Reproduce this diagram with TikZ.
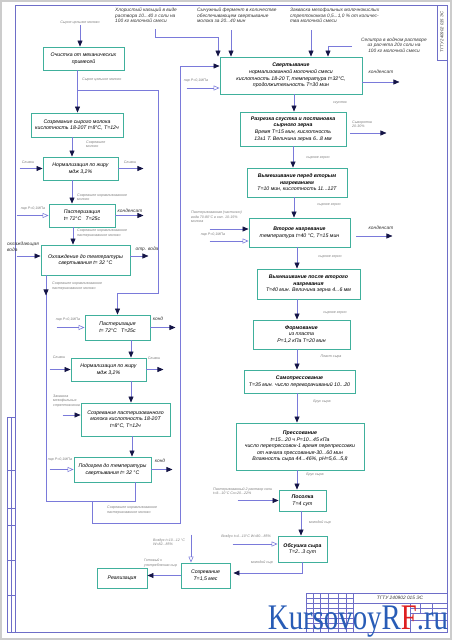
\documentclass[tikz,border=0pt]{standalone}
\usepackage{fontspec}
\setmainfont{Liberation Sans}
\newfontfamily\wmfont{Liberation Serif}
\usetikzlibrary{arrows.meta}

\definecolor{boxc}{RGB}{64,176,156}
\definecolor{linec}{RGB}{122,122,218}
\definecolor{tipc}{RGB}{20,20,70}
\definecolor{labc}{RGB}{125,125,125}
\definecolor{framec}{RGB}{110,110,200}
\definecolor{wmblue}{RGB}{40,92,182}
\definecolor{wmred}{RGB}{222,32,32}

\tikzset{
  proc/.style={draw=boxc, line width=0.9pt, fill=white, align=center, inner sep=1pt,
    font=\fontsize{5.2}{6.6}\selectfont\itshape},
  lab/.style={text=labc, font=\fontsize{3.6}{4.3}\selectfont\itshape, align=left, inner sep=0pt},
  note/.style={text=black!80, font=\fontsize{4.8}{5.6}\selectfont\itshape, align=left, inner sep=0pt},
  flow/.style={draw=linec, line width=0.6pt, -{Triangle[length=6pt,width=5pt,color=tipc]}},
  steam/.style={draw=linec, line width=0.6pt, -{Triangle[open,length=6pt,width=5pt]}},
  link/.style={draw=linec, line width=0.6pt},
  sheet/.style={draw=framec, line width=0.5pt}
}

\begin{document}
\begin{tikzpicture}[x=1pt,y=-1pt]
\useasboundingbox (0,0) rectangle (452,640);
% sheet
\draw[gray!40, line width=1.5pt] (1,1) rectangle (451,639);
\draw[sheet, line width=0.7pt] (15,5) rectangle (447,632);
\draw[sheet] (437,5) rectangle (447,60);
\node[note, rotate=90, font=\fontsize{4.2}{5}\selectfont\itshape] (st1) at (442,32) {ТГТУ 240902 015 ЭС};
\draw[sheet] (7,417) rectangle (15,632);
\draw[sheet] (11,417) -- (11,632);
\foreach \y in {470,508,525,560,595} \draw[sheet] (7,\y) -- (15,\y);
\draw[sheet] (306,593) rectangle (447,632);
\foreach \x in {313,320,328,338,346,353} \draw[sheet] (\x,593) -- (\x,632);
\foreach \y in {598,603,608,613,618,623,628} \draw[sheet] (306,\y) -- (353,\y);
\draw[sheet] (353,603) -- (447,603);
\draw[sheet] (410,603) -- (410,632);
\draw[sheet] (410,608) -- (447,608);
\draw[sheet] (410,613) -- (447,613);
\draw[sheet] (420,603) -- (420,613);
\draw[sheet] (432,603) -- (432,613);
\draw[sheet] (410,620) -- (447,620);
\node[note] (tb1) at (400,597.5) {ТГТУ 240902 015 ЭС};

% left column
\node[proc, minimum width=81pt, minimum height=23pt] (n1) at (83.5,58.5) {Очистка от механических\\примесей};
\node[proc, minimum width=92pt, minimum height=24pt] (n2) at (77,125) {Созревание сырого молока\\кислотность 18-20Т t=8°С, Т=12ч};
\node[proc, minimum width=75pt, minimum height=23pt] (n3) at (80.5,168.5) {Нормализация по жиру\\мдж 3,2\%};
\node[proc, minimum width=66pt, minimum height=23pt] (n4) at (82,215.5) {Пастеризация\\t= 72°С \ \ Т=25с};
\node[proc, minimum width=89pt, minimum height=30pt] (n5) at (85.5,260) {Охлаждение до температуры\\свертывания t= 32 °С};
\node[proc, minimum width=65pt, minimum height=25pt] (n6) at (117.5,327.5) {Пастеризация\\t= 72°С \ \ Т=25с};
\node[proc, minimum width=75pt, minimum height=23pt] (n7) at (108.5,369.5) {Нормализация по жиру\\мдж 3,2\%};
\node[proc, minimum width=89pt, minimum height=33pt] (n8) at (125.5,419.5) {Созревание пастеризованного\\молока кислотность 18-20Т\\t=8°С, Т=12ч};
\node[proc, minimum width=77pt, minimum height=25pt] (n9) at (112.5,469.5) {Подогрев до температуры\\свертывания t= 32 °С};

% right column
\node[proc, minimum width=142pt, minimum height=37pt] (n10) at (291,75.5) {\textbf{Свертывание}\\нормализованной молочной смеси\\кислотность 18-20 Т, температура t=32°С,\\продолжительность Т=30 мин};
\node[proc, minimum width=106pt, minimum height=34pt] (n11) at (293,129) {\textbf{Разрезка сгустка и постановка}\\\textbf{сырного зерна}\\Время Т=15 мин, кислотность\\13±1 Т. Величина зерна 6...8 мм};
\node[proc, minimum width=100pt, minimum height=29pt] (n12) at (297,182.5) {\textbf{Вымешивание перед вторым}\\\textbf{нагреванием}\\Т=10 мин, кислотность 11...12Т};
\node[proc, minimum width=101pt, minimum height=29pt] (n13) at (299.5,232.5) {\textbf{Второе нагревание}\\температура t=40 °С, Т=15 мин};
\node[proc, minimum width=103pt, minimum height=30pt] (n14) at (308.5,284) {\textbf{Вымешивание после второго}\\\textbf{нагревания}\\Т=40 мин. Величина зерна 4...6 мм};
\node[proc, minimum width=97pt, minimum height=29pt] (n15) at (301.5,334.5) {\textbf{Формование}\\из пласта\\Р=1,2 кПа Т=20 мин};
\node[proc, minimum width=111pt, minimum height=23pt] (n16) at (299.5,381.5) {\textbf{Самопрессование}\\Т=35 мин. число переворачиваний 10...20};
\node[proc, minimum width=128pt, minimum height=47pt] (n17) at (300,446.5) {\textbf{Прессование}\\t=15...20 ч Р=10...45 кПа\\число перепрессовок-1 время перепрессовки\\от начала прессования-30...60 мин\\Влажность сыра 44...46\%, рН=5,6...5,8};
\node[proc, minimum width=47pt, minimum height=21pt] (n18) at (302.5,500.5) {\textbf{Посолка}\\Т=4 сут};
\node[proc, minimum width=49pt, minimum height=26pt] (n19) at (302.5,549) {\textbf{Обсушка сыра}\\Т=2...3 сут};
\node[proc, minimum width=49pt, minimum height=25pt] (n20) at (205.5,575.5) {Созревание\\Т=1,5 мес};
\node[proc, minimum width=50pt, minimum height=20pt] (n21) at (122,578) {Реализация};

% labels, left part
\node[lab] (l1) at (80,23) {Сырое цельное молоко};
\node[lab, anchor=west] (l2) at (82,80) {Сырое цельное молоко};
\node[lab, anchor=west] (l3) at (86,144) {Созревшее\\молоко};
\node[lab] (l4) at (28,162) {Сливки};
\node[lab] (l5) at (130,162) {Сливки};
\node[lab, anchor=west] (l6) at (77,197) {Созревшее нормализованное\\молоко};
\node[lab] (l7) at (33,209) {пар Р=0,1МПа};
\node[note] (l8) at (130,211) {конденсат};
\node[lab, anchor=west] (l9) at (77,233) {Созревшее нормализованное\\пастеризованное молоко};
\node[note] (l10) at (23,247) {охлаждающая\\вода};
\node[note] (l11) at (147,249) {отр. вода};
\node[lab, anchor=west] (l12) at (52,286) {Созревшее нормализованное\\пастеризованное молоко};
\node[lab] (l13) at (68,320) {пар Р=0,1МПа};
\node[note] (l14) at (158,319) {конд};
\node[lab] (l15) at (59,357) {Сливки};
\node[lab] (l16) at (154,358) {Сливки};
\node[lab, anchor=west] (l17) at (53,401) {Закваска\\мезофильных\\стрептококков};
\node[lab] (l18) at (60,460) {пар Р=0,1МПа};
\node[note] (l19) at (160,461) {конд};
\node[lab, anchor=west] (l20) at (107,510) {Созревшее нормализованное\\пастеризованное молоко};

% labels, right part
\node[note, anchor=north west] (l21) at (115,8) {Хлористый кальций в виде\\раствора 10...40 г соли на\\100 кг молочной смеси};
\node[note, anchor=north west] (l22) at (197,8) {Сычужный фермент в количестве\\обеспечивающем свертывание\\молока за 20...40 мин};
\node[note, anchor=north west] (l23) at (290,8) {Закваска мезофильных молочнокислых\\стрептококков 0,5...1,0 \% от количес-\\тва молочной смеси};
\node[note, align=center] (l24) at (394,45) {Селитра в водном растворе\\из расчета 20г соли на\\100 кг молочной смеси};
\node[lab] (l25) at (196,81) {пар Р=0,1МПа};
\node[note] (l26) at (381,72) {конденсат};
\node[lab] (l27) at (340,103) {сгусток};
\node[lab, anchor=west] (l28) at (352,124) {Сыворотка\\20-30\%};
\node[lab] (l29) at (318,158) {сырное зерно};
\node[lab] (l30) at (329,205) {сырное зерно};
\node[lab, anchor=west] (l31) at (191,217) {Пастеризованная (частично)\\вода 70-80°С в кол. 10-15\%\\молока};
\node[lab] (l32) at (213,235) {пар Р=0,1МПа};
\node[note] (l33) at (381,228) {конденсат};
\node[lab] (l34) at (330,257) {сырное зерно};
\node[lab] (l35) at (335,313) {сырное зерно};
\node[lab] (l36) at (331,357) {Пласт сыра};
\node[lab] (l37) at (322,402) {Брус сыра};
\node[lab] (l38) at (315,475) {Брус сыра};
\node[lab, anchor=west] (l39) at (213,491) {Пастеризованный 2 раствор соли\\t=8...10°С Сн=20...22\%};
\node[lab] (l40) at (320,523) {молодой сыр};
\node[lab] (l41) at (246,537) {Воздух t=4...10°С W=80...85\%};
\node[lab] (l42) at (262,563) {молодой сыр};
\node[lab, anchor=west] (l43) at (153,542) {Воздух t=10...12 °С\\W=82...85\%};
\node[lab, anchor=west] (l44) at (144,563) {Готовый к\\употреблению сыр};

% flows, left part
\coordinate (br1) at (77.5,90);
\coordinate (br2) at (158,293);
\coordinate (j1) at (92,501);
\coordinate (j2) at (180,523);
\coordinate (t10) at ([yshift=9.5pt]n10.west);
\draw[flow] (l1.south) -- (l1.south |- n1.north);
\draw[flow] ([xshift=-6pt]n1.south) -- ([xshift=-6pt]n1.south |- n2.north);
\draw[flow] (br1) -| (br2) -| (n6.north);
\draw[flow] ([xshift=-5pt]n2.south) -- ([xshift=-5pt]n2.south |- n3.north);
\draw[flow] ([xshift=-23pt]n3.west) -- (n3.west);
\draw[flow] (n3.east) -- ++(25,0);
\draw[flow] ([xshift=-8.5pt]n3.south) -- ([xshift=-8.5pt]n3.south |- n4.north);
\draw[steam] ([xshift=-32pt]n4.west) -- (n4.west);
\draw[flow] (n4.east) -- ++(28,0);
\draw[flow] ([xshift=-9pt]n4.south) -- ([xshift=-9pt]n4.south |- n5.north);
\draw[flow] ([xshift=-24pt,yshift=4pt]n5.west) -- ([yshift=4pt]n5.west);
\draw[flow] ([yshift=4pt]n5.east) -- ++(18,0);
\draw[link] ([xshift=-39.5pt]n5.south) |- (j1);
\draw[flow] ([xshift=-39.5pt]n5.south) -- ++(0,20);
\draw[steam] ([xshift=-28pt]n6.west) -- (n6.west);
\draw[flow] (n6.east) -- ++(25,0);
\draw[flow] ([xshift=13.5pt]n6.south) -- ([xshift=13.5pt]n6.south |- n7.north);
\draw[flow] ([xshift=-21pt]n7.west) -- (n7.west);
\draw[flow] (n7.east) -- ++(17,0);
\draw[flow] ([xshift=22.5pt]n7.south) -- ([xshift=22.5pt]n7.south |- n8.north);
\draw[flow] ([xshift=-18pt,yshift=4.5pt]n8.west) -- ([yshift=4.5pt]n8.west);
\draw[flow] ([xshift=6.5pt]n8.south) -- ([xshift=6.5pt]n8.south |- n9.north);
\draw[steam] ([xshift=-24pt]n9.west) -- (n9.west);
\draw[flow] (n9.east) -- ++(21,0);
\draw[link] ([xshift=22.5pt]n9.south) |- (j1);
\draw[flow] (j1) |- (j2) -- (j2 |- t10) -- (t10);

% flows, right part
\coordinate (c1) at (155,29);
\coordinate (k1) at (218,37);
\coordinate (c2) at (231,30);
\coordinate (c3) at (311,30);
\coordinate (c4) at (352,46);
\coordinate (k4) at (328,46);
\draw[flow] (c1) |- (k1) -- (k1 |- n10.north);
\draw[flow] (c2) -- (c2 |- n10.north);
\draw[flow] (c3) -- (c3 |- n10.north);
\draw[flow] (c4) -- (k4) -- (k4 |- n10.north);
\draw[steam] ([xshift=-33pt,yshift=-12.5pt]n10.west) -- ([yshift=-12.5pt]n10.west);
\draw[flow] ([yshift=-6.5pt]n10.east) -- ++(37,0);
\draw[flow] ([xshift=3pt]n10.south) -- ([xshift=3pt]n10.south |- n11.north);
\draw[flow] ([xshift=4pt,yshift=-4pt]n11.east) -- ++(36,0);
\draw[flow] (n11.south) -- (n11.south |- n12.north);
\draw[flow] ([xshift=-3pt]n12.south) -- ([xshift=-3pt]n12.south |- n13.north);
\draw[flow] ([xshift=-39pt,yshift=3.5pt]n13.west) -- ([yshift=3.5pt]n13.west);
\draw[steam] ([xshift=-39pt,yshift=-8.5pt]n13.west) -- ([yshift=-8.5pt]n13.west);
\draw[flow] ([xshift=6pt,yshift=-3.5pt]n13.east) -- ++(36,0);
\draw[flow] ([xshift=-2.5pt]n13.south) -- ([xshift=-2.5pt]n13.south |- n14.north);
\draw[flow] ([xshift=-11.5pt]n14.south) -- ([xshift=-11.5pt]n14.south |- n15.north);
\draw[flow] ([xshift=-4.5pt]n15.south) -- ([xshift=-4.5pt]n15.south |- n16.north);
\draw[flow] ([xshift=-2.5pt]n16.south) -- ([xshift=-2.5pt]n16.south |- n17.north);
\draw[flow] ([xshift=-3pt]n17.south) -- ([xshift=-3pt]n17.south |- n18.north);
\draw[flow] ([xshift=-41pt]n18.west) -- (n18.west);
\draw[flow] ([xshift=-1.5pt]n18.south) -- ([xshift=-1.5pt]n18.south |- n19.north);
\draw[steam] ([xshift=-45pt,yshift=5pt]n19.west) -- ([yshift=5pt]n19.west);
\draw[flow] (n19.south) |- ([xshift=3pt,yshift=2.5pt]n20.east);
\draw[steam] ([xshift=-14.5pt,yshift=28pt]n20.north) -- ([xshift=-14.5pt]n20.north);
\draw[flow] (n20.west) -- (n20.west -| n21.east);

% watermark
\node[inner sep=0pt] (wm) at (358,622) {\scalebox{0.8}[1]{\wmfont\fontsize{36}{36}\selectfont
  \textcolor{wmblue}{KursovoyR}\textcolor{wmred}{F}\textcolor{wmblue}{.ru}}};
\end{tikzpicture}
\end{document}
